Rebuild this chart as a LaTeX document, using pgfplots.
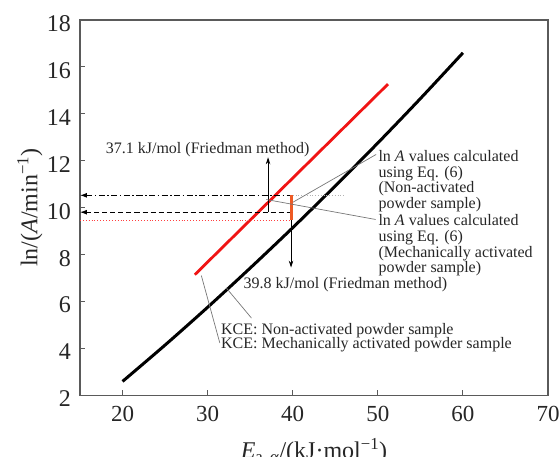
\documentclass[border=0pt]{standalone}
\usepackage{fontspec}
\setmainfont{Liberation Serif}
\newfontfamily\timesfam{Liberation Serif}
\usepackage{pgfplots}
\pgfplotsset{compat=1.18}
\usetikzlibrary{arrows.meta}

\definecolor{axisgray}{HTML}{5A5A5A}
\definecolor{kcered}{HTML}{F01414}
\definecolor{barorange}{HTML}{EE5A24}
\definecolor{leadgray}{HTML}{777777}

\newcommand{\labelfont}{\timesfam\fontsize{24}{26}\selectfont}
\newcommand{\yticksfont}{\timesfam\fontsize{24}{26}\selectfont}
\newcommand{\xticksfont}{\timesfam\fontsize{23}{25}\selectfont}
\newcommand{\notefont}{\timesfam\fontsize{16}{17}\selectfont}

\begin{document}
\begin{tikzpicture}
\begin{axis}[
  scale only axis, width=468pt, height=375.5pt,
  xmin=15, xmax=70, ymin=2, ymax=18,
  xtick={20,30,...,70}, ytick={2,4,...,18},
  tick align=inside, tick pos=left, major tick length=5pt,
  axis line style={axisgray, line width=1.2pt},
  tick style={axisgray, line width=1pt},
  /pgf/number format/assume math mode=true,
  xticklabel style={font=\xticksfont, text=black!85, anchor=north, inner sep=0pt, yshift=-11pt},
  yticklabel style={font=\yticksfont, text=black!85, anchor=east, inner sep=0pt, xshift=-9pt, yshift=-3.5pt},
  xlabel={\textit{E}\textsubscript{a,\,\textit{α}}/(kJ·mol\textsuperscript{−1})},
  xlabel style={font=\labelfont, text=black!85, at={(axis description cs:0.5,0)}, anchor=base, yshift=-63pt},
  ylabel={ln/(\textit{A}/min\textsuperscript{−1})},
  ylabel style={font=\labelfont, text=black!85, at={(axis description cs:-0.107,0.5)}, anchor=center},
  clip=false,
]
% KCE curves
\addplot[black, line width=3pt, smooth] coordinates
  {(20,2.6) (25,4.15) (30,5.76) (35,7.43) (40,9.15) (45,10.93) (50,12.76) (55,14.65) (60,16.6)};
\addplot[kcered, line width=2.8pt] coordinates {(28.5,7.15) (51.2,15.27)};

% ln A levels read back to the ordinate
\addplot[black, line width=1pt, dash pattern=on 6pt off 2.5pt on 1.5pt off 2.5pt, {Latex[length=7pt,width=5pt]}-]
  coordinates {(15,10.53) (40,10.53)};
\addplot[gray!60, line width=0.8pt, dotted] coordinates {(40,10.53) (46,10.53)};
\addplot[black, line width=1pt, dash pattern=on 5pt off 3pt, {Latex[length=7pt,width=5pt]}-]
  coordinates {(15,9.81) (39.8,9.81)};
\addplot[red!75, line width=0.9pt, dotted] coordinates {(15,9.46) (39.8,9.46)};
\addplot[barorange, line width=3pt] coordinates {(39.8,9.46) (39.8,10.53)};

% Friedman values
\addplot[black, line width=0.8pt, -{Stealth[length=7pt,width=4.5pt]}] coordinates {(37.1,9.81) (37.1,12.15)};
\addplot[black, line width=0.8pt, -{Stealth[length=7pt,width=4.5pt]}] coordinates {(39.8,9.46) (39.8,7.45)};

% leader lines
\addplot[leadgray, line width=0.7pt] coordinates {(29.26,7.11) (31.43,4.24)};
\addplot[leadgray, line width=0.7pt] coordinates {(32.2,6.58) (35.15,5.30)};
\addplot[leadgray, line width=0.7pt] coordinates {(49.8,12.27) (40.0,10.23)};
\addplot[leadgray, line width=0.7pt] coordinates {(36.9,10.35) (49.74,9.5)};

% annotations
\begin{scope}[every node/.style={font=\notefont, text=black!85, inner sep=0pt}]
\node[anchor=base] at (axis cs:30.0,12.32) {37.1 kJ/mol (Friedman method)};
\node[anchor=base] at (axis cs:46.2,6.58) {39.8 kJ/mol (Friedman method)};
\node[anchor=base west] at (axis cs:50.06,11.99) {ln \textit{A} values calculated};
\node[anchor=base west] at (axis cs:50.06,11.31) {using Eq. (6)};
\node[anchor=base west] at (axis cs:50.06,10.63) {(Non-activated};
\node[anchor=base west] at (axis cs:50.06,9.95) {powder sample)};
\node[anchor=base west] at (axis cs:50.06,9.26) {ln \textit{A} values calculated};
\node[anchor=base west] at (axis cs:50.06,8.58) {using Eq. (6)};
\node[anchor=base west] at (axis cs:50.06,7.90) {(Mechanically activated};
\node[anchor=base west] at (axis cs:50.06,7.22) {powder sample)};
\node[anchor=base west] at (axis cs:31.57,4.62) {KCE: Non-activated powder sample};
\node[anchor=base west] at (axis cs:31.57,4.01) {KCE: Mechanically activated powder sample};
\end{scope}
\end{axis}
\pgfresetboundingbox
\path[use as bounding box] (-80pt,-61.5pt) rectangle (479pt,395.5pt);
\end{tikzpicture}
\end{document}
